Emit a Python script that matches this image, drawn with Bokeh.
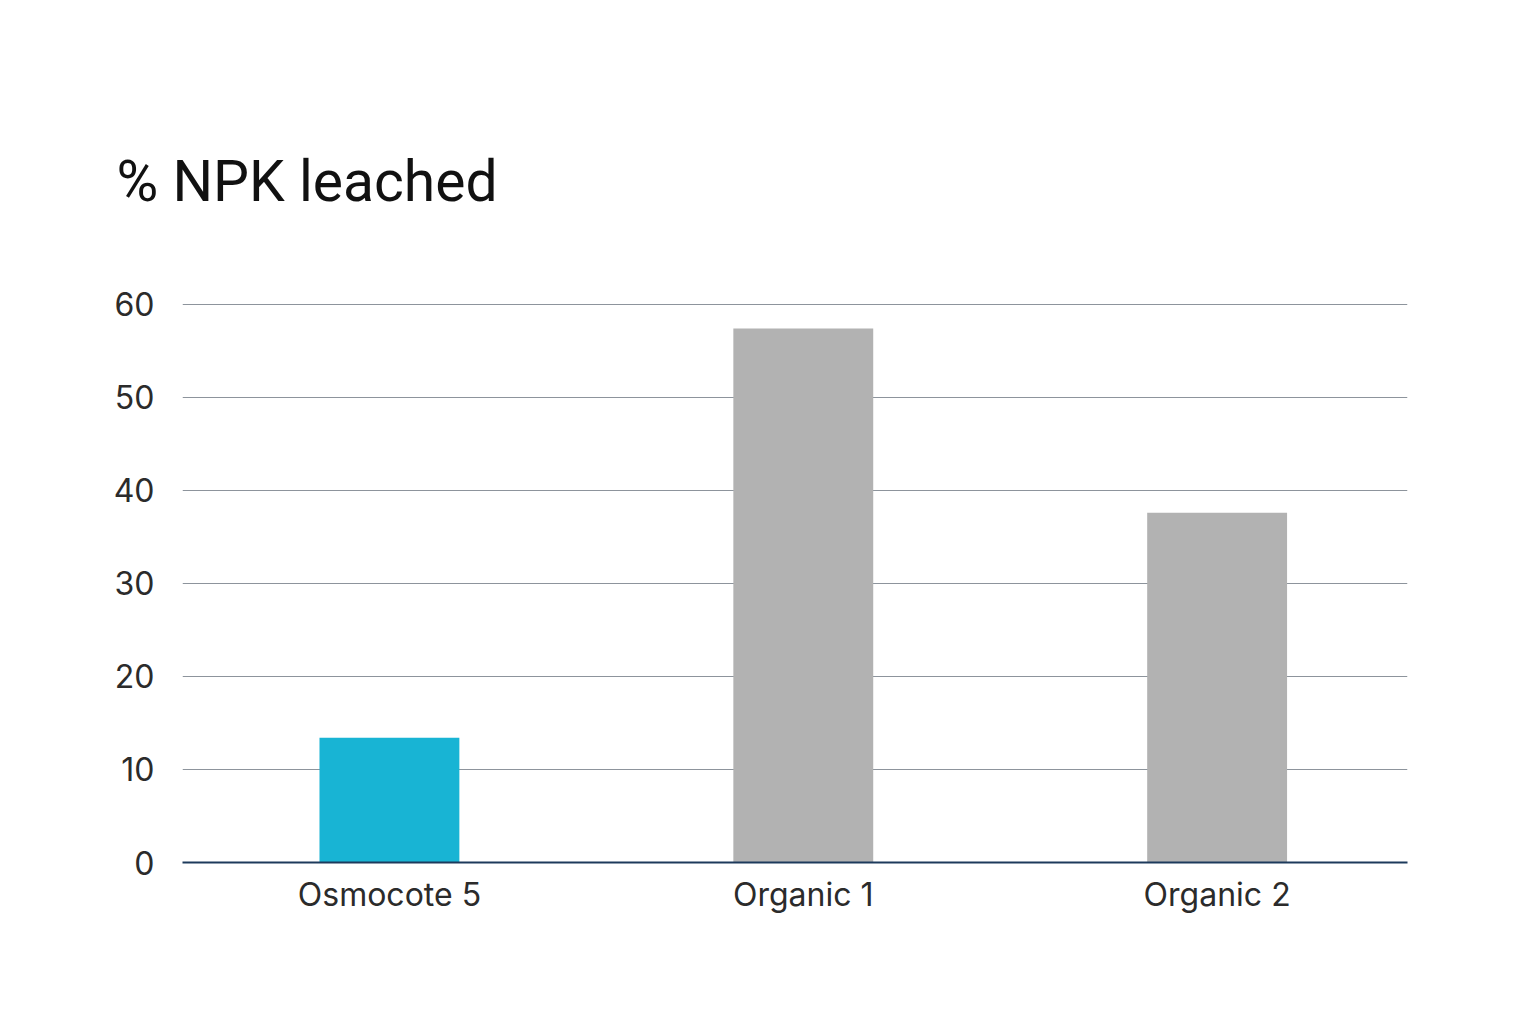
from bokeh.plotting import figure
from bokeh.models import Range1d, FixedTicker, Title, ColumnDataSource
from bokeh.embed import file_html
from bokeh.resources import INLINE

categories = ["Osmocote 5", "Organic 1", "Organic 2"]
values = [13.4, 57.4, 37.6]
colors = ["#18b4d4", "#b2b2b2", "#b2b2b2"]
y_ticks = [0, 10, 20, 30, 40, 50, 60]

xs = list(range(len(categories)))
src = ColumnDataSource(dict(x=xs, top=values, color=colors))

p = figure(width=1521, height=996, output_backend="svg", toolbar_location=None,
           x_range=Range1d(-0.5, 2.46), y_range=Range1d(0, 60.1),
           min_border_left=182, min_border_right=114, min_border_bottom=134,
           min_border_top=303, outline_line_color=None, background_fill_color="white",
           border_fill_color="white")
p.title = None

t = Title(text="% NPK leached", align="left", offset=-66, text_font="Roboto",
          text_font_size="57px", text_font_style="normal", text_color="#111111",
          standoff=177)
p.add_layout(t, "above")

p.vbar(x="x", top="top", width=0.338, bottom=0, color="color", line_color=None, source=src)

p.xaxis.ticker = FixedTicker(ticks=xs)
p.xaxis.major_label_overrides = {i: c for i, c in enumerate(categories)}
p.xaxis.major_tick_line_color = None
p.xaxis.minor_tick_line_color = None
p.xaxis.axis_line_color = "#1d3a5c"
p.xaxis.axis_line_width = 2
p.xaxis.major_label_text_font = "Inter"
p.xaxis.major_label_text_font_size = "32px"
p.xaxis.major_label_text_color = "#2b2b2b"
p.xaxis.major_label_standoff = 6

p.yaxis.ticker = FixedTicker(ticks=y_ticks)
p.yaxis.major_tick_line_color = None
p.yaxis.minor_tick_line_color = None
p.yaxis.axis_line_color = None
p.yaxis.major_label_text_font = "Inter"
p.yaxis.major_label_text_font_size = "32px"
p.yaxis.major_label_text_color = "#2b2b2b"
p.yaxis.major_label_standoff = 22

p.xgrid.grid_line_color = None
p.ygrid.ticker = FixedTicker(ticks=y_ticks[1:])
p.ygrid.grid_line_color = "#8d949c"
p.ygrid.grid_line_width = 1

open("out.html", "w").write(file_html(p, INLINE))
